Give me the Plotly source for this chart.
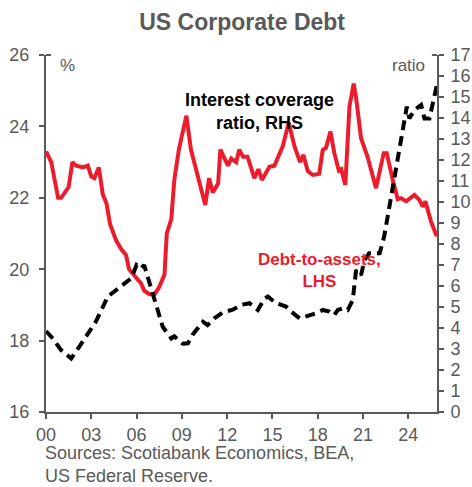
import plotly.graph_objects as go

# Debt-to-assets ratio of US non-financial corporates (%, left axis)
debt_years = [2000.0, 2000.35, 2000.8, 2001.0, 2001.5, 2001.75, 2002.0, 2002.45, 2002.77, 2003.0,
              2003.2, 2003.5, 2003.76, 2004.0, 2004.25, 2004.65, 2005.0, 2005.3, 2005.5, 2006.0,
              2006.3, 2006.5, 2006.85, 2007.2, 2007.5, 2007.85, 2008.0, 2008.3, 2008.5, 2008.8,
              2009.3, 2009.6, 2010.15, 2010.55, 2010.8, 2011.05, 2011.4, 2011.55, 2012.05, 2012.27,
              2012.6, 2012.8, 2013.05, 2013.35, 2013.8, 2014.07, 2014.3, 2014.8, 2015.13, 2015.68,
              2016.08, 2016.46, 2016.83, 2017.05, 2017.34, 2017.67, 2018.1, 2018.33, 2018.55, 2018.84,
              2019.1, 2019.4, 2019.55, 2019.83, 2020.1, 2020.38, 2020.54, 2020.87, 2021.3, 2021.86,
              2022.37, 2022.57, 2022.97, 2023.3, 2023.52, 2023.86, 2024.4, 2024.73, 2024.95, 2025.13,
              2025.5, 2025.88]
debt_to_assets = [23.3, 23.0, 22.0, 22.0, 22.3, 23.0, 22.9, 22.85, 22.9, 22.6,
                  22.55, 22.85, 22.1, 21.85, 21.25, 20.8, 20.55, 20.4, 20.0, 19.75,
                  19.6, 19.4, 19.3, 19.3, 19.5, 19.85, 21.0, 21.4, 22.5, 23.35,
                  24.3, 23.35, 22.4, 21.8, 22.55, 22.15, 22.4, 23.35, 22.9, 23.1,
                  23.0, 23.35, 23.15, 23.15, 22.55, 22.8, 22.5, 22.87, 22.9, 23.44,
                  24.1, 23.44, 23.0, 23.2, 22.75, 22.64, 22.67, 23.34, 23.4, 23.86,
                  23.25, 22.76, 22.8, 22.36, 24.55, 25.2, 24.8, 23.67, 23.15, 22.27,
                  23.25, 23.25, 22.5, 21.96, 21.99, 21.9, 22.08, 21.94, 21.75, 21.9,
                  21.34, 20.92]

# Interest coverage ratio (right axis)
cover_years = [2000.0, 2000.45, 2001.0, 2001.67, 2002.2, 2002.9, 2003.3, 2004.1, 2004.65, 2005.2,
               2005.65, 2006.0, 2006.3, 2006.5, 2006.97, 2007.3, 2007.73, 2008.3, 2008.5, 2009.06,
               2009.4, 2009.7, 2010.4, 2010.7, 2011.15, 2011.7, 2012.37, 2012.93, 2013.48, 2014.03,
               2014.47, 2014.7, 2015.25, 2015.9, 2016.24, 2016.8, 2017.24, 2017.9, 2018.34, 2018.77,
               2019.1, 2019.33, 2019.66, 2019.99, 2020.32, 2020.43, 2020.54, 2020.87, 2021.1, 2021.4,
               2022.1, 2022.4, 2022.75, 2023.08, 2023.4, 2023.74, 2023.9, 2024.07, 2024.4, 2024.85,
               2025.07, 2025.4, 2025.62, 2025.9]
interest_coverage = [3.85, 3.5, 2.95, 2.55, 3.1, 3.83, 4.3, 5.5, 5.8, 6.13,
                     6.37, 7.0, 6.84, 7.0, 5.9, 5.0, 4.06, 3.5, 3.6, 3.25,
                     3.27, 3.67, 4.3, 4.14, 4.46, 4.74, 4.87, 5.1, 5.18, 4.86,
                     5.41, 5.49, 5.18, 5.02, 4.78, 4.46, 4.54, 4.7, 4.86, 4.78,
                     4.62, 4.86, 4.94, 4.86, 5.33, 6.13, 6.76, 6.52, 7.24, 7.56,
                     7.56, 8.35, 9.78, 11.05, 12.48, 13.9, 14.54, 13.98, 14.38, 14.62,
                     13.98, 13.98, 14.78, 15.6]

x_tick_vals = [2000, 2003, 2006, 2009, 2012, 2015, 2018, 2021, 2024]
x_tick_text = ["00", "03", "06", "09", "12", "15", "18", "21", "24"]

RED = "#EC1C2D"
GREY = "#595959"
FONT = "Liberation Sans, Arial, sans-serif"

fig = go.Figure()
fig.add_trace(go.Scatter(x=debt_years, y=debt_to_assets, mode="lines",
                         line=dict(color=RED, width=4), yaxis="y", hoverinfo="skip"))
fig.add_trace(go.Scatter(x=cover_years, y=interest_coverage, mode="lines",
                         line=dict(color="black", width=4, dash="10px,6px"),
                         yaxis="y2", hoverinfo="skip"))

axis_common = dict(showline=True, linecolor=GREY, linewidth=2, ticks="outside",
                   ticklen=5, tickwidth=2, tickcolor=GREY, showgrid=False, zeroline=False,
                   automargin=False,
                   tickfont=dict(family=FONT, size=18, color=GREY))

fig.update_layout(
    width=472, height=487,
    margin=dict(l=46, r=35, t=55, b=75),
    paper_bgcolor="white", plot_bgcolor="white",
    showlegend=False,
    title=dict(text="<b>US Corporate Debt</b>", x=0.513, xanchor="center",
               y=1 - 22 / 487, yanchor="middle",
               font=dict(family=FONT, size=23, color=GREY)),
    xaxis=dict(range=[2000, 2025.9], tickvals=x_tick_vals, ticktext=x_tick_text,
               **axis_common),
    yaxis=dict(range=[16, 26], dtick=2, ticklabelstandoff=6, **axis_common),
    yaxis2=dict(range=[0, 17], dtick=1, overlaying="y", side="right",
                ticklabelstandoff=3, **axis_common),
)

fig.add_annotation(x=2014.14, y=24.43, xref="x", yref="y", showarrow=False,
                   text="<b>Interest coverage<br>ratio, RHS</b>",
                   font=dict(color="black", family=FONT, size=18))
fig.add_annotation(x=2018.11, y=19.95, xref="x", yref="y", showarrow=False,
                   text="<b>Debt-to-assets,<br>LHS</b>",
                   font=dict(color=RED, family=FONT, size=17))
fig.add_annotation(x=2001.42, y=25.72, xref="x", yref="y", showarrow=False,
                   text="%", font=dict(color=GREY, family=FONT, size=17))
fig.add_annotation(x=2025.23, y=25.72, xref="x", yref="y", showarrow=False,
                   xanchor="right", text="ratio", font=dict(color=GREY, family=FONT, size=17))
fig.add_annotation(x=-0.008, y=-0.148, xref="paper", yref="paper", showarrow=False,
                   xanchor="left", yanchor="middle", align="left",
                   text="Sources: Scotiabank Economics, BEA,<br>US Federal Reserve.",
                   font=dict(color=GREY, family=FONT, size=18))

# inward caps at the top of both vertical axes
fig.add_shape(type="line", xref="paper", yref="paper", x0=0, x1=0.013, y0=1, y1=1,
              line=dict(color=GREY, width=2))
fig.add_shape(type="line", xref="paper", yref="paper", x0=0.987, x1=1, y0=1, y1=1,
              line=dict(color=GREY, width=2))

fig.write_html("out.html")
